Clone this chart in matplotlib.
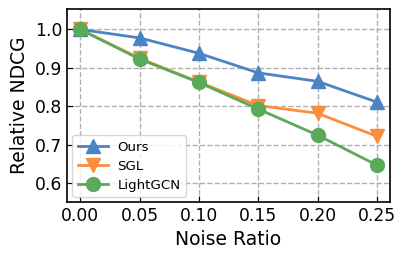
import matplotlib
matplotlib.use("Agg")
import matplotlib.pyplot as plt

noise_ratio = [0.00, 0.05, 0.10, 0.15, 0.20, 0.25]
ours = [1.000, 0.978, 0.938, 0.887, 0.865, 0.811]
sgl = [1.000, 0.925, 0.863, 0.802, 0.782, 0.722]
lightgcn = [1.000, 0.923, 0.862, 0.793, 0.725, 0.647]

fig = plt.figure(figsize=(4.07, 2.59), dpi=100)
ax = fig.add_axes([0.165, 0.22, 0.793, 0.745])

ax.plot(noise_ratio, ours, color='#4a84c4', marker='^', markersize=10, linewidth=2, label='Ours', zorder=3)
ax.plot(noise_ratio, sgl, color='#fc8d3d', marker='v', markersize=10, linewidth=2, label='SGL', zorder=3)
ax.plot(noise_ratio, lightgcn, color='#5aaa5a', marker='o', markersize=10, linewidth=2, label='LightGCN', zorder=3)

ax.set_xlim(-0.011, 0.261)
ax.set_ylim(0.551, 1.053)
ax.set_xticks(noise_ratio)
ax.set_yticks([0.6, 0.7, 0.8, 0.9, 1.0])
ax.set_xticklabels(['0.00', '0.05', '0.10', '0.15', '0.20', '0.25'])
ax.tick_params(direction='in', labelsize=12.3, length=4)
ax.grid(True, linestyle='--', color='#b0b0b0', linewidth=1)
ax.set_axisbelow(True)
for s in ax.spines.values():
    s.set_linewidth(1.2)

ax.set_xlabel('Noise Ratio', fontsize=13.5)
ax.set_ylabel('Relative NDCG', fontsize=13.5)
ax.legend(loc='lower left', fontsize=9.6, borderaxespad=0.38, handlelength=2.3,
          labelspacing=0.45, handletextpad=0.7)

plt.savefig('out.png', dpi=100)
